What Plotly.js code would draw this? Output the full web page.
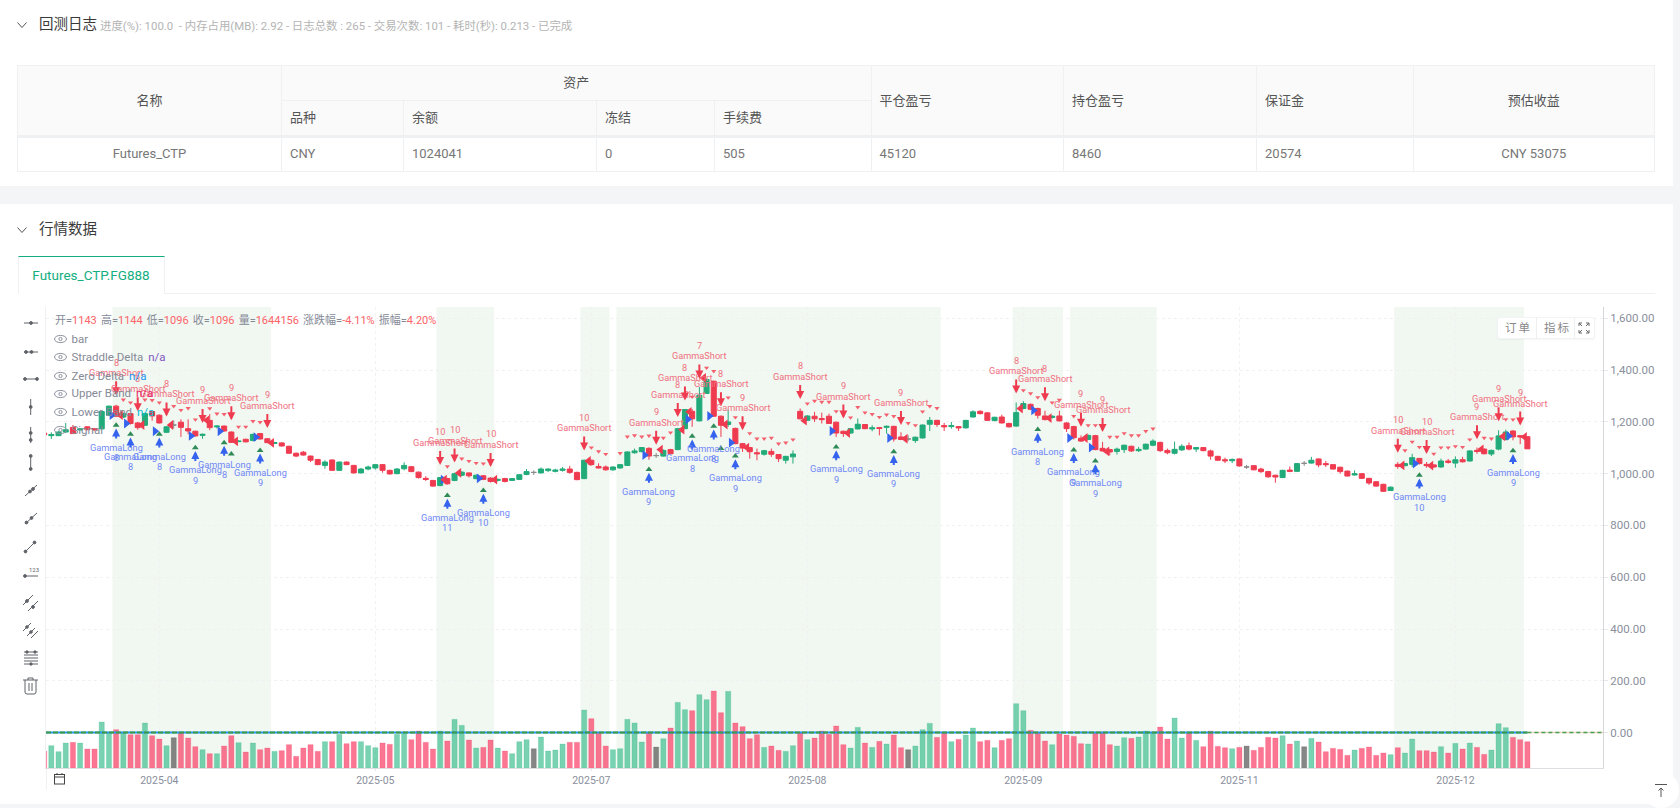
<!DOCTYPE html>
<html><head><meta charset="utf-8">
<script src="https://cdn.plot.ly/plotly-3.0.1.min.js"></script>
<style>
html,body{margin:0;padding:0;width:1680px;height:808px;overflow:hidden;background:#f4f5f7;font-family:Roboto,"Noto Sans CJK SC",sans-serif;}
.card{position:absolute;left:0;width:1673px;background:#fff;}
.abs{position:absolute;white-space:nowrap;}
.h1{font-size:14.5px;color:#3a3a3a;font-weight:400;line-height:20px;}
table{position:absolute;left:17px;top:65px;width:1637px;border-collapse:collapse;table-layout:fixed;font-size:13px;color:#777;}
td,th{border:1px solid #eef0f2;padding:0 8px 3px;height:31px;text-align:left;font-weight:400;}
th{background:#fafafa;color:#555;}
.c{text-align:center;}
tr.b td{border-top:3px solid #eef0f2;font-weight:400;height:31px;padding-bottom:2px}
#chart{position:absolute;left:0;top:0;width:1680px;height:808px;z-index:1;}
.over{z-index:2;pointer-events:none;}
.lg{font-size:11.5px;color:#858a97;left:71.5px;line-height:14px;}
.lg b{font-weight:400;margin-left:5px}
.r{color:#fb6468}
</style></head><body>
<div class="card" style="top:0;height:186px"></div>
<div class="card" style="top:204px;height:600px"></div>
<svg class="abs" style="left:16px;top:20px" width="12" height="10"><path d="M1.5 2.5L6 7.5L10.5 2.5" fill="none" stroke="#555" stroke-width="1"/></svg>
<div class="abs h1" style="left:39px;top:15px">回测日志</div>
<div class="abs" style="left:100px;top:18px;font-size:11.4px;color:#b4b4b4;line-height:16px">进度(%): 100.0 &nbsp;- 内存占用(MB): 2.92 - 日志总数 : 265 - 交易次数: 101 - 耗时(秒): 0.213 - 已完成</div>
<table><colgroup><col style="width:264px"><col style="width:122px"><col style="width:193px"><col style="width:118px"><col style="width:156.5px"><col style="width:192.5px"><col style="width:193px"><col style="width:156.5px"><col style="width:241.5px"></colgroup>
<tr><th rowspan="2" class="c">名称</th><th colspan="4" class="c">资产</th><th rowspan="2">平仓盈亏</th><th rowspan="2">持仓盈亏</th><th rowspan="2">保证金</th><th rowspan="2" class="c">预估收益</th></tr>
<tr><th>品种</th><th>余额</th><th>冻结</th><th>手续费</th></tr>
<tr class="b"><td class="c">Futures_CTP</td><td>CNY</td><td>1024041</td><td>0</td><td>505</td><td>45120</td><td>8460</td><td>20574</td><td class="c">CNY 53075</td></tr></table>
<svg class="abs" style="left:16px;top:225px" width="12" height="10"><path d="M1.5 2.5L6 7.5L10.5 2.5" fill="none" stroke="#555" stroke-width="1"/></svg>
<div class="abs h1" style="left:39px;top:220px">行情数据</div>
<div class="abs" style="left:17.5px;top:293px;width:1637px;height:1px;background:#eef0f2"></div>
<div class="abs" style="left:17.5px;top:256px;width:145px;height:36px;border:1px solid #eef0f2;border-top:1px solid #12ae80;border-bottom:1px solid #fff;background:#fff;text-align:center;color:#12ae80;font-size:13.5px;line-height:36px">Futures_CTP.FG888</div>
<div class="abs" style="left:45.5px;top:768px;width:1px;height:22px;background:#eef0f2"></div>

<div id="chart"></div>

<svg class="abs over" style="left:0;top:300px" width="46" height="400" fill="none" stroke="#5f6368" stroke-width="1">
<g fill="#5f6368">
<path d="M24 23H38"/><circle cx="31" cy="23" r="1.4"/>
<path d="M24 52H38"/><circle cx="26" cy="52" r="1.4"/><circle cx="31.5" cy="52" r="1.4"/>
<path d="M24 79H38"/><circle cx="25" cy="79" r="1.4"/><circle cx="37" cy="79" r="1.4"/>
<path d="M30.7 99V115"/><circle cx="30.7" cy="107" r="1.4"/>
<path d="M30.7 127V143"/><circle cx="30.7" cy="133" r="1.4"/><circle cx="30.7" cy="140" r="1.4"/>
<path d="M30.7 156V169"/><circle cx="30.7" cy="156" r="1.4"/><circle cx="30.7" cy="169" r="1.4"/>
<path d="M25 196L37 185"/><circle cx="30" cy="191.5" r="1.4"/><circle cx="33" cy="189" r="1.4"/>
<path d="M25 224L37 213"/><circle cx="26.5" cy="222.5" r="1.4"/><circle cx="31.5" cy="218" r="1.4"/>
<path d="M25 252L35 242"/><circle cx="25.5" cy="251.5" r="1.4"/><circle cx="34.5" cy="242.5" r="1.4"/>
<path d="M24 276H38"/><circle cx="25" cy="276" r="1.4"/>
<path d="M23 305L33 295M28 311L38 301"/><circle cx="27" cy="301" r="1.4"/><circle cx="33" cy="307" r="1.4"/>
<path d="M23 331L31 323M27 336L35 328M31 338L38 331"/><circle cx="27" cy="327" r="1.3"/><circle cx="31" cy="332" r="1.3"/>
<path d="M24 352H38M24 355H38M24 358H38M24 361H38M24 364H38"/><circle cx="27" cy="352" r="1.2"/><circle cx="35" cy="352" r="1.2"/><circle cx="31" cy="364" r="1.2"/>
</g>
<path d="M23 380H38M28 380V378H33V380M25 380V392Q25 394 27 394H34Q36 394 36 392V380M29 383V391M32 383V391"/>
</svg>
<div class="abs over" style="left:29px;top:567px;font-size:6px;color:#5f6368;line-height:6px">123</div>

<svg class="abs over" style="left:53px;top:772px" width="14" height="14" fill="none" stroke="#444"><rect x="1.5" y="2.5" width="10" height="9.5"/><path d="M1.5 5H11.5M4 1V3M9 1V3"/></svg>

<div class="abs over" style="left:55px;top:314px;font-size:11px;line-height:14px;color:#858a97;word-spacing:1.4px">开=<span class="r">1143</span> 高=<span class="r">1144</span> 低=<span class="r">1096</span> 收=<span class="r">1096</span> 量=<span class="r">1644156</span> 涨跌幅=<span class="r">-4.11%</span> 振幅=<span class="r">4.20%</span></div>
<div class="abs over lg" style="top:332px">bar</div>
<div class="abs over lg" style="top:350px">Straddle Delta<b style="color:#7e57c2">n/a</b></div>
<div class="abs over lg" style="top:369px">Zero Delta<b style="color:#2196f3">n/a</b></div>
<div class="abs over lg" style="top:386px">Upper Band<b style="color:#e91e63">n/a</b></div>
<div class="abs over lg" style="top:405px">Lower Band<b style="color:#00bcd4">n/a</b></div>
<div class="abs over lg" style="top:423px">Signal</div>
<svg class="abs over" style="left:53px;top:332px" width="15" height="110" fill="none" stroke="#8d929e">
<g id="eyes"><ellipse cx="7.5" cy="7" rx="6" ry="3.6"/><circle cx="7.5" cy="7" r="1.6"/>
<ellipse cx="7.5" cy="25" rx="6" ry="3.6"/><circle cx="7.5" cy="25" r="1.6"/>
<ellipse cx="7.5" cy="44" rx="6" ry="3.6"/><circle cx="7.5" cy="44" r="1.6"/>
<ellipse cx="7.5" cy="62" rx="6" ry="3.6"/><circle cx="7.5" cy="62" r="1.6"/>
<ellipse cx="7.5" cy="80" rx="6" ry="3.6"/><circle cx="7.5" cy="80" r="1.6"/>
<ellipse cx="7.5" cy="98" rx="6" ry="3.6"/><circle cx="7.5" cy="98" r="1.6"/></g></svg>

<div class="abs over" style="left:1497px;top:317px;width:96px;height:20px;background:#fff;border:1px solid #f2f3f5;border-radius:3px;box-shadow:0 1px 2px rgba(0,0,0,.04);font-size:11.5px;color:#888;line-height:20px;letter-spacing:2px">
<span class="abs" style="left:7px">订单</span><span class="abs" style="left:38px;top:0;width:1px;height:20px;background:#eef0f2"></span>
<span class="abs" style="left:46px">指标</span><span class="abs" style="left:76px;top:0;width:1px;height:20px;background:#eef0f2"></span>
<svg class="abs" style="left:80px;top:4px" width="12" height="12" fill="none" stroke="#666"><path d="M1 4V1H4M8 1H11V4M11 8V11H8M4 11H1V8M1 1L4 4M11 1L8 4M11 11L8 8M1 11L4 8"/></svg></div>

<div class="abs over" style="left:1643px;top:772px;width:36px;height:36px;border-radius:18px;background:#fff"></div>
<svg class="abs over" style="left:1653px;top:782px" width="16" height="16" fill="none" stroke="#555"><path d="M2 2.5H14M8 15V6M5.5 8.5L8 6L10.5 8.5"/></svg>

<script>
// candle data, first value is the bar clipped by the left edge
var open = [1157,
1147,1147,1161,1179,1169,1181,1174,1173,1226,1261,1219,1232,1196,1187,1240,1226,1160,1188,1199,1174,
1164,1148,1206,1181,1184,1161,1124,1133,1128,1155,1135,1117,1119,1106,1079,1083,1068,1055,1032,1053,
1013,1045,1032,1003,1018,1022,1035,1013,1000,1019,1027,1006,982,974,954,981,974,994,1003,981,
992,983,974,981,974,978,997,1005,1003,1012,1009,1013,1018,1005,981,1052,1028,1026,1015,1022,
1032,1081,1085,1098,1070,1068,1093,1093,1174,1241,1204,1310,1357,1222,1190,1175,1116,1101,1081,1075,
1086,1074,1052,1065,1241,1206,1222,1213,1222,1199,1164,1157,1173,1190,1173,1178,1179,1183,1142,1134,
1128,1138,1191,1206,1186,1182,1182,1177,1219,1241,1235,1205,1219,1194,1184,1252,1268,1252,1223,1217,
1223,1196,1182,1137,1132,1147,1098,1093,1086,1093,1106,1089,1095,1110,1121,1090,1079,1092,1108,1095,
1101,1088,1067,1054,1050,1057,1026,1031,1018,1008,994,985,1014,1009,1040,1041,1057,1039,1035,1025,
1010,995,1000,982,969,959,935,1036,1031,1036,1059,1036,1034,1026,1049,1041,1054,1049,1090,1095,
1076,1095,1132,1165,1147,1143];
var high = [1160,
1160,1164,1196,1188,1176,1183,1176,1242,1263,1266,1236,1234,1200,1236,1243,1229,1184,1206,1210,1210,
1166,1155,1230,1187,1186,1163,1128,1135,1155,1157,1137,1122,1121,1108,1082,1088,1070,1057,1052,1055,
1047,1047,1034,1022,1031,1037,1037,1015,1022,1044,1030,1008,990,976,987,984,1004,1009,1005,997,
995,986,981,984,983,998,1018,1013,1024,1021,1019,1026,1030,1008,1054,1054,1040,1032,1028,1037,
1087,1097,1103,1102,1080,1094,1096,1177,1250,1250,1335,1368,1360,1225,1248,1178,1119,1103,1097,1092,
1097,1076,1069,1090,1252,1226,1239,1236,1232,1201,1166,1176,1213,1192,1187,1180,1186,1185,1160,1148,
1143,1190,1219,1208,1196,1200,1184,1208,1245,1245,1237,1220,1228,1197,1275,1280,1271,1255,1243,1226,
1243,1199,1185,1148,1151,1150,1123,1096,1101,1112,1108,1103,1116,1133,1124,1097,1124,1114,1121,1103,
1103,1093,1069,1062,1059,1059,1034,1033,1023,1010,996,1015,1028,1041,1049,1065,1059,1049,1037,1027,
1012,1013,1002,984,971,961,951,1045,1042,1077,1061,1045,1036,1058,1057,1067,1065,1090,1101,1098,
1093,1168,1170,1168,1149,1144];
var low = [1148,
1134,1145,1157,1154,1167,1168,1167,1172,1224,1220,1215,1190,1170,1185,1205,1194,1157,1174,1142,1152,
1143,1135,1168,1175,1163,1119,1122,1121,1126,1132,1118,1115,1105,1077,1064,1070,1045,1033,1019,1011,
1011,1033,1001,1001,1013,1016,1004,997,998,1013,1006,981,972,950,952,958,971,990,985,978,
975,966,970,966,972,976,994,995,1001,1006,1005,1008,1000,975,979,1032,1020,1012,1011,1020,
1030,1077,1083,1054,1061,1066,1075,1091,1172,1181,1202,1308,1220,1142,1181,1114,1084,1058,1052,1070,
1065,1045,1039,1039,1210,1204,1200,1194,1192,1142,1142,1155,1171,1172,1164,1148,1155,1124,1130,1125,
1119,1136,1165,1181,1165,1174,1165,1175,1217,1229,1204,1203,1194,1178,1181,1249,1246,1213,1206,1213,
1202,1161,1132,1123,1130,1091,1086,1071,1074,1080,1084,1084,1093,1106,1084,1075,1074,1088,1090,1084,
1087,1054,1050,1041,1041,1027,1018,1013,1003,984,965,983,1006,1007,1030,1039,1025,1026,1016,1000,
989,993,980,957,950,930,933,1019,1029,1026,1036,1023,1023,1023,1039,1023,1043,1047,1077,1075,
1068,1090,1130,1129,1114,1096];
var close = [1150,
1151,1161,1170,1155,1173,1170,1169,1240,1261,1222,1232,1194,1178,1232,1223,1196,1181,1188,1179,1165,
1146,1152,1178,1184,1165,1121,1126,1123,1152,1134,1120,1120,1107,1079,1068,1072,1052,1035,1045,1013,
1045,1035,1003,1018,1026,1035,1013,999,1018,1032,1008,985,978,952,985,961,1000,1006,992,994,
978,970,978,970,981,996,1008,1005,1018,1018,1014,1018,1005,977,1052,1035,1022,1015,1026,1035,
1084,1088,1101,1068,1070,1090,1077,1174,1248,1212,1303,1364,1222,1187,1200,1116,1099,1085,1077,1089,
1075,1058,1067,1076,1212,1223,1212,1209,1194,1157,1155,1174,1191,1174,1177,1175,1183,1134,1132,1134,
1141,1188,1206,1190,1181,1186,1177,1206,1239,1232,1206,1218,1196,1181,1236,1271,1249,1226,1209,1222,
1204,1174,1139,1126,1148,1093,1088,1084,1095,1110,1088,1094,1114,1126,1089,1081,1094,1106,1095,1101,
1089,1068,1052,1050,1055,1030,1026,1015,1008,988,987,1013,1009,1039,1040,1052,1034,1035,1018,1008,
991,1000,982,964,952,932,948,1028,1039,1062,1039,1031,1026,1049,1044,1054,1046,1088,1086,1077,
1090,1146,1161,1142,1142,1096];
// bar heights (one unit is about 20.8 thousand lots)
var volume = [50,
67,49,75,77,75,57,57,138,108,115,107,100,100,135,97,87,67,91,105,90,
64,55,43,43,66,97,76,48,75,55,60,50,52,70,35,60,70,50,79,79,
101,73,79,79,67,61,75,71,101,108,85,111,77,57,111,81,146,128,84,60,
62,84,60,51,43,79,85,58,93,51,54,72,77,77,174,148,107,66,55,58,
146,135,78,105,63,88,120,197,175,172,220,205,231,166,230,135,124,88,100,62,
66,53,50,67,105,85,90,111,101,126,70,60,122,75,62,80,72,99,61,55,
66,115,134,92,105,79,86,99,120,79,83,61,83,88,193,172,113,105,81,70,
102,99,95,73,72,107,107,70,66,91,89,93,111,105,123,87,150,90,105,83,
64,111,65,61,58,62,66,53,62,92,90,97,72,81,64,89,78,49,59,56,
38,54,59,63,38,45,40,61,45,87,52,52,48,64,45,74,57,75,62,41,
54,133,121,92,85,79];

var tickIdx = [15,45,75,105,135,165,195];
var tickLabels = ['2025-04','2025-05','2025-07','2025-08','2025-09','2025-11','2025-12'];
var regionStart = [8.5,53.5,73.5,78.5,133.5,141.5,186.5];
var regionEnd = [30.5,61.5,77.5,123.5,140.5,153.5,204.5];

var upperIdx = [10,11,13,14,15,17,18,19,20,22,23,24,26,27,28,29,55,57,58,59,60,75,76,77,79,80,81,82,83,85,86,89,91,92,94,95,97,98,99,100,101,102,103,105,106,107,108,109,111,112,113,114,115,116,117,119,120,121,122,123,135,136,137,139,140,142,144,145,147,148,149,150,151,152,153,188,189,190,192,193,194,195,196,197,199,200,202,203];
var upperVal = [1286,1275,1286,1284,1275,1261,1246,1253,1209,1252,1232,1230,1181,1181,1203,1199,1028,1058,1049,1041,1039,1101,1086,1076,1079,1143,1148,1143,1147,1138,1159,1297,1409,1396,1294,1218,1156,1135,1135,1138,1116,1120,1132,1271,1281,1277,1277,1241,1217,1257,1236,1230,1219,1228,1222,1195,1187,1240,1261,1253,1322,1310,1295,1275,1285,1222,1187,1187,1142,1142,1156,1148,1148,1164,1174,1090,1123,1103,1077,1101,1101,1106,1103,1132,1138,1135,1210,1209];

var shortIdx = [9,12,16,21,25,30,54,56,61,74,84,87,88,90,93,96,104,110,118,134,138,143,146,187,191,198,201,204];
var shortTip = [1303,1241,1221,1196,1206,1177,1034,1043,1026,1090,1112,1219,1283,1368,1261,1168,1289,1213,1188,1310,1280,1181,1161,1081,1076,1133,1203,1186];
var shortNum = [8,8,8,9,9,9,10,10,10,10,9,8,8,7,8,9,8,9,9,8,8,9,9,10,10,9,9,9];
var shortExit = [1226,1188,1188,1206,1125,1119,977,1003,977,1049,1093,1170,1239,1370,1190,1101,1205,1157,1135,1252,1215,1138,1086,1032,1031,1094,1144,1142];

var longIdx = [9,11,15,20,24,29,55,60,83,89,92,95,109,117,137,142,145,190,203];
var longTip = [1190,1155,1155,1103,1123,1093,919,938,1019,1148,1186,1071,1106,1088,1174,1095,1052,997,1092];
var longNum = [8,8,8,9,8,9,11,10,9,8,8,9,9,9,8,9,9,10,9];
var longEntry = [1226,1194,1164,1146,1164,1141,977,982,1072,1210,1223,1120,1165,1138,1245,1138,1101,1039,1146];

var lowerIdx = longIdx.concat([25,93]);
var lowerVal = longTip.map(function(v){return v-3;}).concat([1076,1097]);

var lineLastBar = 205, axisLeft = -0.74, axisRight = 215.5;
var zeroDelta = [0,0], straddleDelta = [0,0];

var RED='#ef3b50', GREEN='#22ab7a', GRAY='#8c8c8c', BLUE='#3563ee';
var idx = open.map(function(_,i){return i-1;});
var doji = idx.filter(function(_,k){return open[k]===close[k];});
var norm = idx.filter(function(_,k){return open[k]!==close[k];});
function pick(a,set){return set.map(function(i){return a[i+1];});}
function tone(k,g,r,n){return close[k]>open[k]?g:(close[k]<open[k]?r:n);}

var traces = [
 {type:'bar',x:idx,y:volume,yaxis:'y',width:0.72,hoverinfo:'skip',
  marker:{color:idx.map(function(_,k){return tone(k,'rgba(52,186,136,.66)','rgba(250,60,100,.70)','rgba(88,88,88,.72)');}),
          line:{width:1,color:idx.map(function(_,k){return tone(k,'rgba(52,186,136,.22)','rgba(250,60,100,.22)','rgba(88,88,88,.2)');})}}},
 {type:'scatter',mode:'lines',x:[lineLastBar,axisRight],y:straddleDelta,yaxis:'y2',hoverinfo:'skip',line:{color:'rgba(225,190,165,.6)',width:1.5}},
 {type:'scatter',mode:'lines',x:[axisLeft,lineLastBar],y:zeroDelta,yaxis:'y2',hoverinfo:'skip',line:{color:'#2196f3',width:2}},
 {type:'scatter',mode:'lines',x:[axisLeft,lineLastBar],y:straddleDelta,yaxis:'y2',hoverinfo:'skip',line:{color:'#3f9a45',width:2,dash:'5px,2px'}},
 {type:'scatter',mode:'lines',x:[lineLastBar,axisRight],y:straddleDelta,yaxis:'y2',hoverinfo:'skip',line:{color:'#4aa04f',width:1.5,dash:'4px,3px'}},
 {type:'candlestick',x:norm,open:pick(open,norm),high:pick(high,norm),low:pick(low,norm),close:pick(close,norm),yaxis:'y2',hoverinfo:'skip',
  increasing:{line:{color:GREEN,width:1},fillcolor:GREEN},decreasing:{line:{color:RED,width:1},fillcolor:RED}},
 {type:'candlestick',x:doji,open:pick(open,doji),high:pick(high,doji),low:pick(low,doji),close:pick(close,doji),yaxis:'y2',hoverinfo:'skip',
  increasing:{line:{color:GRAY,width:1},fillcolor:GRAY},decreasing:{line:{color:GRAY,width:1},fillcolor:GRAY}},
 {type:'scatter',mode:'markers',x:upperIdx,y:upperVal,yaxis:'y2',hoverinfo:'skip',marker:{symbol:'triangle-down',size:4.5,color:'#f4606e',line:{width:0}}},
 {type:'scatter',mode:'markers',x:longIdx.map(function(i){return i-0.6;}),y:longEntry,yaxis:'y2',hoverinfo:'skip',marker:{symbol:'triangle-right',size:8.5,color:BLUE,line:{width:0}}},
 {type:'scatter',mode:'markers',x:shortIdx.map(function(i){return i+0.62;}),y:shortExit,yaxis:'y2',hoverinfo:'skip',marker:{symbol:'triangle-left',size:8.5,color:RED,line:{width:0}}},
 {type:'scatter',mode:'markers',x:lowerIdx,y:lowerVal,yaxis:'y2',hoverinfo:'skip',marker:{symbol:'triangle-up',size:6,color:'#2e8b57',line:{width:0}}}
];

var anns = [];
function sig(i,tip,num,label,col,txt,dir,off){
  anns.push({x:i,y:tip,xref:'x',yref:'y2',ax:0,ay:dir*15.5,text:'',showarrow:true,arrowhead:2,arrowsize:0.8,arrowwidth:2,arrowcolor:col,standoff:off});
  anns.push({x:i,y:tip,xref:'x',yref:'y2',text:label,showarrow:false,yshift:-dir*22.5,yanchor:'middle',font:{size:9.2,color:txt,family:'Roboto'}});
  anns.push({x:i,y:tip,xref:'x',yref:'y2',text:String(num),showarrow:false,yshift:-dir*33,yanchor:'middle',font:{size:9.2,color:txt,family:'Roboto'}});
}
shortIdx.forEach(function(i,k){sig(i,shortTip[k],shortNum[k],'GammaShort',RED,'#f0707f',-1,0);});
longIdx.forEach(function(i,k){sig(i,longTip[k],longNum[k],'GammaLong',BLUE,'#6f88f6',1,4);});

var layout = {
 width:1680,height:808,margin:{l:46,r:77,t:307,b:40,pad:0},
 paper_bgcolor:'rgba(0,0,0,0)',plot_bgcolor:'rgba(0,0,0,0)',showlegend:false,
 font:{family:'Roboto',size:11.5,color:'#8a8f9c'},
 boxmode:'overlay',boxgap:0.3,boxgroupgap:0,bargap:0.28,
 xaxis:{range:[axisLeft,axisRight],rangeslider:{visible:false},tickmode:'array',tickvals:tickIdx,ticktext:tickLabels,tickfont:{size:10.5},
   showgrid:true,gridcolor:'#eff1f3',griddash:'3px,3px',gridwidth:1,zeroline:false,
   ticks:'outside',ticklen:2,tickcolor:'#e5e7ea',showline:true,linecolor:'#dcdee1',linewidth:1,fixedrange:true},
 yaxis:{range:[0,1383],showgrid:false,zeroline:false,showticklabels:false,ticks:'',showline:true,linecolor:'#eef0f2',linewidth:1,fixedrange:true},
 yaxis2:{range:[-137,1644],overlaying:'y',side:'right',anchor:'x',dtick:200,tick0:0,tickformat:',.2f',
   showgrid:true,gridcolor:'#eff1f3',griddash:'3px,3px',gridwidth:1,zeroline:false,ticks:'outside',ticklen:4,tickcolor:'#e5e7ea',
   showline:true,linecolor:'#d4d6da',linewidth:1,fixedrange:true},
 shapes:regionStart.map(function(a,k){return {type:'rect',xref:'x',yref:'paper',x0:a,x1:regionEnd[k],y0:0,y1:1,layer:'below',fillcolor:'#f1f7f1',line:{width:0}};}),
 annotations:anns
};
Plotly.newPlot('chart',traces,layout,{staticPlot:true,displayModeBar:false});
</script>
</body></html>
